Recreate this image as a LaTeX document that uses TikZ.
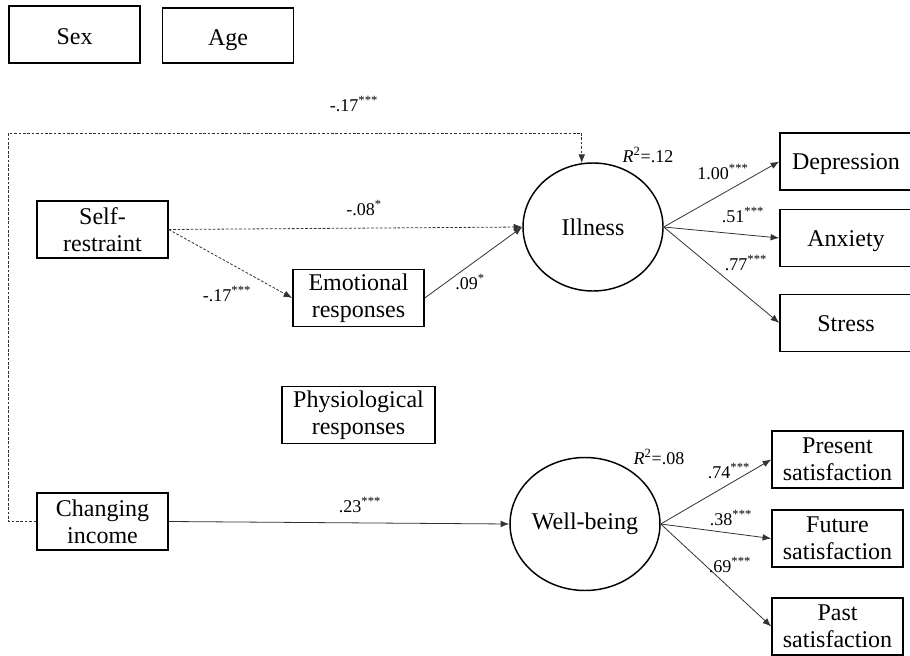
\documentclass[tikz,border=0pt]{standalone}
\usepackage{fontspec}
\setmainfont{Liberation Serif}
\usetikzlibrary{arrows.meta, positioning, shapes.geometric}

\begin{document}
\begin{tikzpicture}[x=0.75pt, y=-0.75pt,
  var/.style={draw, line width=1.1pt, align=center, font=\fontsize{18}{20}\selectfont, minimum width=98.25pt, minimum height=42.75pt, inner sep=1pt},
  single/.style={var, text height=13pt, text depth=1pt},
  covar/.style={var, text height=16pt, text depth=1pt},
  latent/.style={draw, ellipse, line width=1.1pt, font=\fontsize{18}{20}\selectfont, inner sep=0pt},
  path/.style={draw=black!80, line width=0.6pt, -{Latex[length=6.5pt,width=5pt]}},
  dotpath/.style={path, dash pattern=on 2pt off 1.3pt},
  coef/.style={font=\fontsize{13.5}{15}\selectfont, inner sep=1pt}]
\useasboundingbox (0,0) rectangle (910,656);

% Covariates
\node[covar] (sex) at (74.5,34.5) {Sex};
\node[covar, minimum height=41.25pt] (age) at (228,35.5) {Age};

% Predictors
\node[var] (selfr) at (102.5,229.5) {Self-\\restraint};
\node[var] (income) at (102.5,521.5) {Changing\\income};
\node[var] (emot) at (358.5,298) {Emotional\\responses};
\node[var, minimum width=114.75pt] (physio) at (358.5,415) {Physiological\\responses};

% Latent variables
\node[latent, minimum width=105pt, minimum height=96pt] (illness) at (593,227) {Illness};
\node[latent, minimum width=108pt, minimum height=99.75pt] (wellb) at (585,524) {Well-being};

% Indicators
\node[single, minimum width=99pt] (dep) at (846,161.5) {Depression};
\node[single, minimum width=99pt] (anx) at (846,238) {Anxiety};
\node[single, minimum width=99pt] (stress) at (846,323) {Stress};
\node[var] (present) at (837.5,459.5) {Present\\satisfaction};
\node[var] (future) at (837.5,538.5) {Future\\satisfaction};
\node[var] (past) at (837.5,626.5) {Past\\satisfaction};

% Paths to Illness
\coordinate (looptop) at (0,133);
\draw[dotpath] (income.west) -- ++(-28,0) |- (illness.100 |- looptop) -- (illness.100);
\draw[dotpath] (selfr.east) -- (illness.west);
\draw[dotpath] (selfr.east) -- (emot.west);
\draw[path] (emot.east) -- (illness.west);
\draw[path] (illness.east) -- (dep.west);
\draw[path] (illness.east) -- (anx.west);
\draw[path] (illness.east) -- (stress.west);

% Paths to Well-being
\draw[path] (income.east) -- (wellb.west);
\draw[path] (wellb.east) -- (present.west);
\draw[path] (wellb.east) -- (future.west);
\draw[path] (wellb.east) -- (past.west);

% Coefficients
\node[coef] (c1) at (354,104) {-.17\textsuperscript{***}};
\node[coef] (c2) at (364,208) {-.08\textsuperscript{*}};
\node[coef] (c3) at (227,294) {-.17\textsuperscript{***}};
\node[coef] (c4) at (470,282) {.09\textsuperscript{*}};
\node[coef] (c5) at (723,172) {1.00\textsuperscript{***}};
\node[coef] (c6) at (743,215) {.51\textsuperscript{***}};
\node[coef] (c7) at (746,263) {.77\textsuperscript{***}};
\node[coef] (r1) at (648,155) {\textit{R}\textsuperscript{2}=.12};
\node[coef] (c8) at (360,505) {.23\textsuperscript{***}};
\node[coef] (c9) at (729,471) {.74\textsuperscript{***}};
\node[coef] (c10) at (731,518) {.38\textsuperscript{***}};
\node[coef] (c11) at (730,565) {.69\textsuperscript{***}};
\node[coef] (r2) at (659,457) {\textit{R}\textsuperscript{2}=.08};
\end{tikzpicture}
\end{document}
